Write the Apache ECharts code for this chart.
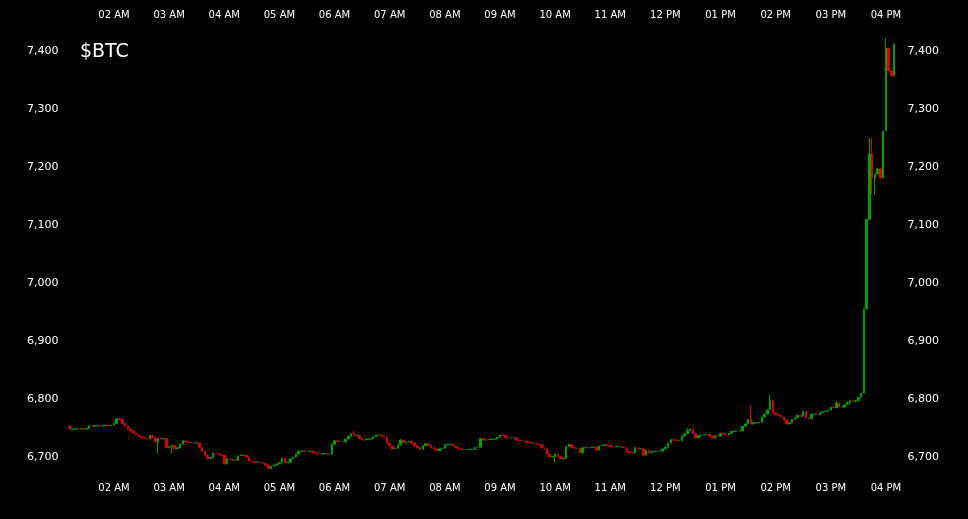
<!DOCTYPE html>
<html>
<head>
<meta charset="utf-8">
<script src="https://cdn.jsdelivr.net/npm/echarts@6/dist/echarts.min.js"></script>
<style>
html,body{margin:0;padding:0;background:#000;}
#chart{width:968px;height:519px;}
</style>
</head>
<body>
<div id="chart"></div>
<script>
// 3-minute candles, first candle at 01:12 AM
const startMinute = 72;
const stepMinutes = 3;
const firstOpen = 6754;
const closes = [
  6747,6748,6749,6748,6749,6748,6749,6754,6753,6754,
  6754,6753,6754,6755,6754,6755,6758,6766,6765,6758,
  6753,6748,6745,6741,6738,6735,6733,6732,6731,6737,
  6733,6726,6732,6731,6732,6716,6718,6720,6714,6716,
  6722,6728,6726,6725,6725,6724,6724,6716,6710,6703,
  6697,6699,6707,6706,6704,6703,6688,6697,6695,6695,
  6694,6702,6703,6703,6700,6693,6692,6691,6691,6690,
  6689,6686,6680,6684,6686,6688,6690,6698,6690,6691,
  6697,6700,6705,6710,6710,6711,6710,6710,6708,6707,
  6705,6705,6706,6705,6705,6722,6728,6727,6727,6726,
  6731,6736,6740,6737,6737,6732,6729,6730,6731,6731,
  6735,6738,6738,6736,6734,6724,6719,6714,6715,6721,
  6729,6725,6726,6727,6724,6719,6716,6713,6719,6723,
  6720,6716,6714,6711,6714,6715,6721,6722,6722,6719,
  6716,6714,6713,6713,6713,6713,6713,6717,6717,6732,
  6729,6730,6730,6731,6731,6734,6738,6737,6733,6733,
  6733,6733,6729,6728,6728,6727,6725,6724,6724,6722,
  6721,6716,6714,6705,6700,6701,6705,6701,6697,6698,
  6718,6722,6716,6715,6715,6707,6716,6716,6716,6717,
  6717,6712,6719,6720,6721,6720,6718,6717,6718,6718,
  6717,6716,6709,6708,6707,6716,6714,6714,6703,6712,
  6708,6709,6710,6710,6710,6714,6717,6724,6730,6729,
  6728,6728,6736,6740,6745,6748,6740,6733,6737,6738,
  6739,6739,6736,6733,6737,6736,6741,6740,6738,6741,
  6744,6745,6745,6745,6753,6757,6765,6757,6759,6759,
  6760,6769,6774,6781,6797,6776,6773,6772,6769,6764,
  6757,6759,6765,6768,6772,6770,6779,6767,6766,6774,
  6774,6773,6777,6778,6779,6781,6786,6785,6793,6786,
  6786,6790,6793,6797,6796,6797,6803,6810,6955,7110,
  7222,7181,7188,7197,7181,7262,7405,7366,7357,7412
];
// wicks that reach beyond the body: [index, high, low]
const wicks = [
  [32, null, 6706], [37, null, 6706], [103, 6745, null], [120, 6731, null],
  [176, null, 6690], [224, 6750, null], [247, 6790, null], [254, 6807, null],
  [278, 6796, null], [282, 6796, null], [290, 7250, null], [291, 7250, 7153],
  [292, null, 7153], [296, 7422, null]
];
const tickLabels = ['02 AM','03 AM','04 AM','05 AM','06 AM','07 AM','08 AM','09 AM','10 AM','11 AM','12 PM','01 PM','02 PM','03 PM','04 PM'];
const firstTickIndex = 16;   // 02:00 AM
const ticksEvery = 20;       // one hour of 3-minute candles

const categories = closes.map((c, i) => {
  const m = startMinute + i * stepMinutes;
  return String(Math.floor(m / 60)).padStart(2, '0') + ':' + String(m % 60).padStart(2, '0');
});
const wickMap = {};
wicks.forEach(w => { wickMap[w[0]] = w; });
const ohlc = closes.map((c, i) => {
  const o = i === 0 ? firstOpen : closes[i - 1];
  let hi = Math.max(o, c), lo = Math.min(o, c);
  const w = wickMap[i];
  if (w) { if (w[1] != null) hi = w[1]; if (w[2] != null) lo = w[2]; }
  return [o, c, lo, hi];
});

const GREEN = '#00a000', RED = '#e00000';
const font = 'DejaVu Sans';
const xLabel = (margin) => ({
  color: '#ffffff', fontSize: 10, fontFamily: font, margin: margin,
  interval: (idx) => idx >= firstTickIndex && (idx - firstTickIndex) % ticksEvery === 0,
  formatter: (v, idx) => tickLabels[(idx - firstTickIndex) / ticksEvery] || ''
});
const yLabel = (margin) => ({
  color: '#ffffff', fontSize: 11, fontFamily: font, margin: margin,
  showMinLabel: false, showMaxLabel: false,
  formatter: (v) => (Math.round(v) % 100 === 0 ? Math.round(v).toLocaleString('en-US') : '')
});

const chart = echarts.init(document.getElementById('chart'), null, {renderer: 'canvas'});
chart.setOption({
  backgroundColor: '#000000',
  animation: false,
  title: {
    text: '$BTC', left: 75, top: 38,
    textStyle: {color: '#ffffff', fontSize: 19, fontWeight: 'normal', fontFamily: font}
  },
  grid: {left: 68.5, top: 33.6, width: 827.1, height: 435},
  xAxis: [
    {type: 'category', data: categories, position: 'bottom', boundaryGap: true,
     axisLine: {show: false}, axisTick: {show: false}, splitLine: {show: false},
     axisLabel: xLabel(15)},
    {type: 'category', data: categories, position: 'top', boundaryGap: true,
     axisLine: {show: false}, axisTick: {show: false}, splitLine: {show: false},
     axisLabel: xLabel(13)}
  ],
  yAxis: [
    {type: 'value', position: 'left', min: 6680, max: 7430, splitNumber: 7, scale: true,
     axisLine: {show: false}, axisTick: {show: false}, splitLine: {show: false},
     axisLabel: yLabel(10)},
    {type: 'value', position: 'right', min: 6680, max: 7430, splitNumber: 7, scale: true,
     axisLine: {show: false}, axisTick: {show: false}, splitLine: {show: false},
     axisLabel: yLabel(12)}
  ],
  series: [{
    type: 'candlestick', xAxisIndex: 0, yAxisIndex: 0,
    data: ohlc, barWidth: 2,
    itemStyle: {color: GREEN, color0: RED, borderColor: GREEN, borderColor0: RED, borderWidth: 1}
  }]
});
</script>
</body>
</html>
